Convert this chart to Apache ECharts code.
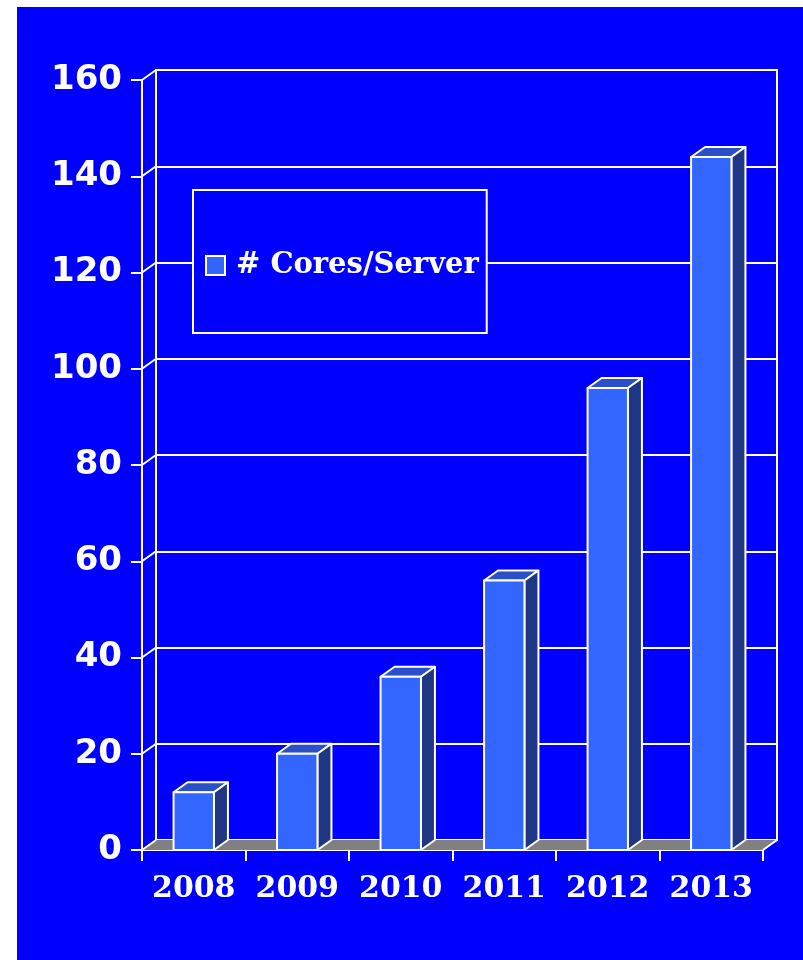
<!DOCTYPE html>
<html>
<head>
<meta charset="utf-8">
<script src="https://cdn.jsdelivr.net/npm/echarts@6/dist/echarts.min.js"></script>
<style>
  html, body { margin: 0; padding: 0; background: #fff; }
  #chart { position: absolute; left: 17px; top: 7px; width: 786px; height: 953px; background: #0000FF; }
</style>
</head>
<body>
<div id="chart"></div>
<script>
var years = ['2008', '2009', '2010', '2011', '2012', '2013'];
var coresPerServer = [12, 20, 36, 56, 96, 144];
var yTicks = [0, 20, 40, 60, 80, 100, 120, 140, 160];
var seriesName = '# Cores/Server';

// 3d depth of the walls and bars, in px
var DX = 14, DY = -10;
var WHITE = '#ffffff';
var LW = 2;

function lineStyle() {
  return { stroke: WHITE, lineWidth: LW, lineJoin: 'round' };
}

function renderBar(params, api) {
  var top = api.coord([api.value(0), api.value(1)]);
  var base = api.coord([api.value(0), 0]);
  var bw = api.size([1, 0])[0] * 0.39;
  var x0 = top[0] - bw / 2, x1 = top[0] + bw / 2;
  var yt = top[1], yb = base[1];
  return {
    type: 'group',
    children: [
      { type: 'polygon', shape: { points: [[x0, yt], [x1, yt], [x1 + DX, yt + DY], [x0 + DX, yt + DY]] },
        style: Object.assign({ fill: '#2B4FC8' }, lineStyle()) },
      { type: 'polygon', shape: { points: [[x1, yb], [x1 + DX, yb + DY], [x1 + DX, yt + DY], [x1, yt]] },
        style: Object.assign({ fill: '#1F3685' }, lineStyle()) },
      { type: 'rect', shape: { x: x0, y: yt, width: bw, height: yb - yt },
        style: Object.assign({ fill: '#3366FF' }, lineStyle()) }
    ]
  };
}

function renderFloor(params, api) {
  var cs = params.coordSys;
  var yb = cs.y + cs.height, xl = cs.x, xr = cs.x + cs.width;
  return {
    type: 'group',
    children: [
      { type: 'polygon', shape: { points: [[xl, yb], [xr, yb], [xr + DX, yb + DY], [xl + DX, yb + DY]] },
        style: { fill: '#808080' } },
      { type: 'line', shape: { x1: xr, y1: yb, x2: xr + DX, y2: yb + DY }, style: lineStyle() }
    ]
  };
}

// diagonal grid lines across the left wall
function renderWall(params, api) {
  var p = api.coord([0, api.value(0)]);
  var x = params.coordSys.x;
  return { type: 'line', shape: { x1: x, y1: p[1], x2: x + DX, y2: p[1] + DY }, style: lineStyle() };
}

var myChart = echarts.init(document.getElementById('chart'));

var option = {
  animation: false,
  backgroundColor: '#0000FF',
  grid: [
    { left: 125, right: 40, top: 73, bottom: 110 },
    { left: 125 + DX, right: 40 - DX, top: 73 + DY, bottom: 110 - DY,
      show: true, borderColor: WHITE, borderWidth: LW, backgroundColor: 'transparent' }
  ],
  legend: {
    data: [seriesName],
    left: 176,
    top: 183,
    padding: [61, 8, 53, 12],
    backgroundColor: '#0000FF',
    borderColor: WHITE,
    borderWidth: LW,
    borderRadius: 0,
    icon: 'rect',
    itemWidth: 19,
    itemHeight: 19,
    itemStyle: { color: '#3366FF', borderColor: WHITE, borderWidth: LW },
    textStyle: { color: WHITE, fontFamily: 'DejaVu Serif', fontWeight: 'bold', fontSize: 29,
                 lineHeight: 28, padding: [0, 0, 0, 6] }
  },
  xAxis: [
    {
      type: 'category', gridIndex: 0, data: years, boundaryGap: true,
      axisLine: { lineStyle: { color: WHITE, width: LW } },
      axisTick: { show: true, interval: 0, alignWithLabel: false, length: 11,
                  lineStyle: { color: WHITE, width: LW } },
      axisLabel: { interval: 0, color: WHITE, fontFamily: 'DejaVu Serif', fontWeight: 'bold',
                   fontSize: 30, margin: 24 }
    },
    { type: 'category', gridIndex: 1, data: years, show: false }
  ],
  yAxis: [
    {
      type: 'value', gridIndex: 0, min: 0, max: 160, interval: 20,
      axisLine: { show: true, lineStyle: { color: WHITE, width: LW } },
      axisTick: { show: true, length: 11, lineStyle: { color: WHITE, width: LW } },
      axisLabel: { color: WHITE, fontFamily: 'DejaVu Sans', fontWeight: 'bold', fontSize: 34, margin: 20 },
      splitLine: { show: false }
    },
    {
      type: 'value', gridIndex: 1, min: 0, max: 160, interval: 20,
      axisLine: { show: false }, axisTick: { show: false }, axisLabel: { show: false },
      splitLine: { show: true, lineStyle: { color: WHITE, width: LW } }
    }
  ],
  series: [
    {
      name: 'floor', type: 'custom', xAxisIndex: 0, yAxisIndex: 0, z: 1,
      renderItem: renderFloor, data: [[0, 0]], silent: true
    },
    {
      name: 'wall', type: 'custom', xAxisIndex: 0, yAxisIndex: 0, z: 1,
      renderItem: renderWall, data: yTicks.map(function (v) { return [v]; }),
      encode: { y: 0 }, silent: true
    },
    {
      name: seriesName, type: 'custom', xAxisIndex: 0, yAxisIndex: 0, z: 3,
      itemStyle: { color: '#3366FF' },
      renderItem: renderBar,
      data: years.map(function (y, i) { return [i, coresPerServer[i]]; })
    }
  ]
};

myChart.setOption(option);
</script>
</body>
</html>
